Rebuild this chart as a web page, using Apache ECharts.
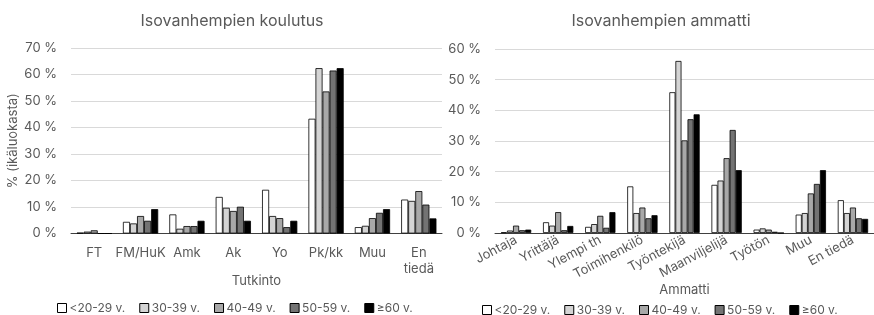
<!DOCTYPE html>
<html>
<head>
<meta charset="utf-8">
<script src="https://cdn.jsdelivr.net/npm/echarts@6/dist/echarts.min.js"></script>
<style>
  html, body { margin: 0; padding: 0; background: #fff; }
  #chart { width: 874px; height: 315px; }
</style>
</head>
<body>
<div id="chart"></div>
<script>
// age groups (legend)
const ageGroups = ['<20-29 v.', '30-39 v.', '40-49 v.', '50-59 v.', '≥60 v.']
const barColors = ['#ffffff', '#d4d4d4', '#a8a8a8', '#737373', '#000000']

// left: koulutus
const eduCats = ['FT', 'FM/HuK', 'Amk', 'Ak', 'Yo', 'Pk/kk', 'Muu', 'En\ntiedä']
const edu2029 = [0.3, 4.4, 7.2, 13.8, 16.5, 43.3, 2.4, 12.8]
const edu3039 = [0.7, 3.8, 1.8, 9.7, 6.6, 62.4, 2.9, 12.3]
const edu4049 = [1.2, 6.6, 2.8, 8.5, 5.8, 53.6, 5.8, 16.0]
const edu5059 = [0, 4.8, 2.8, 10.1, 2.4, 61.5, 7.8, 10.9]
const edu60 = [0, 9.2, 4.8, 4.8, 4.8, 62.4, 9.2, 5.7]

// right: ammatti
const jobCats = ['Johtaja', 'Yrittäjä', 'Ylempi th', 'Toimihenkilö', 'Työntekijä', 'Maanviljelijä', 'Työtön', 'Muu', 'En tiedä']
const job2029 = [0.2, 3.5, 2.0, 15.2, 45.9, 15.7, 1.1, 6.0, 10.7]
const job3039 = [0.8, 2.4, 2.9, 6.5, 56.1, 17.1, 1.5, 6.5, 6.5]
const job4049 = [2.4, 6.8, 5.6, 8.3, 30.2, 24.4, 1.1, 12.9, 8.3]
const job5059 = [0.9, 0.9, 1.7, 4.8, 37.1, 33.6, 0.4, 16.0, 4.8]
const job60 = [1.1, 2.3, 6.8, 5.8, 38.7, 20.5, 0, 20.5, 4.6]

const eduData = [edu2029, edu3039, edu4049, edu5059, edu60]
const jobData = [job2029, job3039, job4049, job5059, job60]

const txt = '#595959'
const font = 'Inter'

const myChart = echarts.init(document.getElementById('chart'))

function makeSeries(data, idx, gap) {
  return data.map(function (vals, i) {
    return {
      name: ageGroups[i],
      type: 'bar',
      xAxisIndex: idx,
      yAxisIndex: idx,
      data: vals,
      barGap: '0%',
      barCategoryGap: gap,
      itemStyle: { color: barColors[i], borderColor: '#000', borderWidth: 0.8 },
      silent: true
    }
  })
}

function yAx(idx, max, name) {
  return {
    type: 'value',
    gridIndex: idx,
    min: 0,
    max: max,
    interval: 10,
    name: name,
    nameLocation: 'middle',
    nameGap: 50,
    nameTextStyle: { color: txt, fontSize: 13, fontFamily: font },
    axisLabel: { formatter: '{value} %', color: txt, fontSize: 13, fontFamily: font, margin: 14 },
    axisLine: { show: false },
    axisTick: { show: false },
    splitLine: { lineStyle: { color: '#d9d9d9', width: 1 } }
  }
}

function legendAt(left, top) {
  return {
    data: ageGroups, left: left, top: top, itemWidth: 9, itemHeight: 9, itemGap: 14,
    icon: 'rect', itemStyle: { borderColor: '#000', borderWidth: 1 },
    textStyle: { color: txt, fontSize: 12, fontFamily: font, width: 56, padding: [0, 0, 0, -2] }
  }
}

myChart.setOption({
  animation: false,
  title: [
    { text: 'Isovanhempien koulutus', left: 227, top: 8, textAlign: 'center',
      textStyle: { color: txt, fontSize: 16, fontWeight: 'normal', fontFamily: font } },
    { text: 'Isovanhempien ammatti', left: 656, top: 8, textAlign: 'center',
      textStyle: { color: txt, fontSize: 16, fontWeight: 'normal', fontFamily: font } }
  ],
  legend: [legendAt(52, 297), legendAt(477, 299)],
  grid: [
    { left: 71, top: 48, width: 371, height: 185.5 },
    { left: 495, top: 49, width: 387, height: 184 }
  ],
  xAxis: [
    { type: 'category', gridIndex: 0, data: eduCats,
      name: 'Tutkinto', nameLocation: 'middle', nameGap: 41, nameMoveOverlap: false,
      nameTextStyle: { color: txt, fontSize: 13, fontFamily: font },
      axisLabel: { color: txt, fontSize: 13, fontFamily: font, margin: 12, lineHeight: 16, interval: 0 },
      axisTick: { show: false },
      axisLine: { lineStyle: { color: '#404040', width: 1 } } },
    { type: 'category', gridIndex: 1, data: jobCats,
      name: 'Ammatti', nameLocation: 'middle', nameGap: 51, nameMoveOverlap: false,
      nameTextStyle: { color: txt, fontSize: 13, fontFamily: font },
      axisLabel: { color: txt, fontSize: 13, fontFamily: font, margin: 6, rotate: 28, interval: 0 },
      axisTick: { show: false },
      axisLine: { lineStyle: { color: '#404040', width: 1 } } }
  ],
  yAxis: [
    yAx(0, 70, '% (ikäluokasta)'),
    yAx(1, 60, '')
  ],
  series: makeSeries(eduData, 0, '24%').concat(makeSeries(jobData, 1, '28%'))
})
</script>
</body>
</html>
